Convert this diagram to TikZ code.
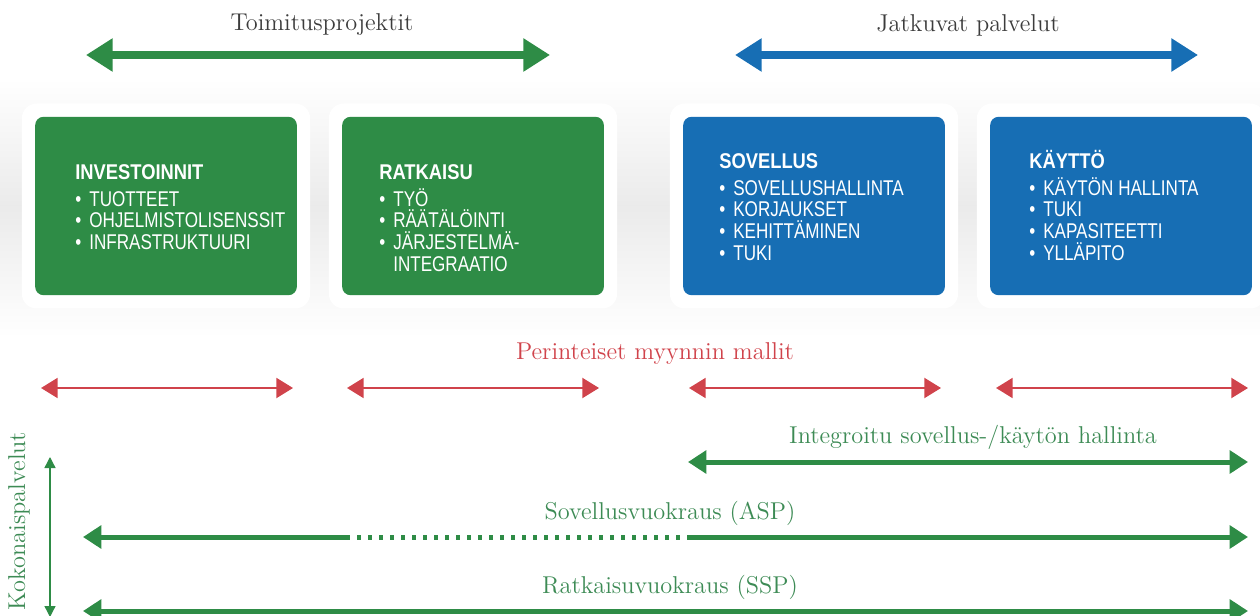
\documentclass[tikz,border=0pt]{standalone}
\usepackage{fontspec}
\newfontfamily\cardfont[FakeStretch=0.8]{Liberation Sans}
\newfontfamily\cardbold[FakeStretch=0.86]{Liberation Sans}
\usetikzlibrary{arrows.meta}

\newcommand{\cardbullet}{\makebox[8.4pt][l]{•}}
\newcommand{\cardhead}[1]{\rule{0pt}{11.5pt}{\cardbold\bfseries #1}\\[3pt]}

\tikzset{
  cardback/.style={fill=white, rounded corners=9pt, minimum width=173pt, minimum height=123pt, inner sep=0pt},
  card/.style={rounded corners=5pt, minimum width=157pt, minimum height=107pt, inner sep=0pt},
  cardtext/.style={text=white, align=left, inner sep=0pt, anchor=north west,
    font=\cardfont\fontsize{12.8}{13}\selectfont},
  serifnote/.style={inner sep=0pt, font=\fontsize{14.6}{16}\selectfont},
  bigtip/.tip={Triangle[length=16pt,width=19pt]},
  midtip/.tip={Triangle[length=11pt,width=13.5pt]},
  redtip/.tip={Triangle[length=10pt,width=12pt]},
  thintip/.tip={Triangle[length=6.6pt,width=6.6pt]},
  bigarrow/.style={line width=4.6pt, bigtip-bigtip},
  midline/.style={line width=3pt, draw=linegreen},
  redarrow/.style={line width=1.2pt, draw=salesred, redtip-redtip},
  thinarrow/.style={line width=0.8pt, draw=linegreen, thintip-thintip}
}

\begin{document}
\begin{tikzpicture}[x=0.6pt, y=-0.6pt]
  \definecolor{boxgreen}{RGB}{46,140,70}
  \definecolor{boxblue}{RGB}{23,110,180}
  \definecolor{linegreen}{RGB}{46,140,70}
  \definecolor{textgreen}{RGB}{61,139,85}
  \definecolor{salesred}{RGB}{208,67,75}
  \definecolor{darktext}{RGB}{60,60,60}
  \useasboundingbox (0,0) rectangle (1260,616);

  % grey band behind the cards
  \shade[top color=white, bottom color=black!8] (0,78) rectangle (1260,206);
  \shade[top color=black!8, bottom color=white] (0,206) rectangle (1260,338);

  % cards
  \node[cardback] (inv-back) at (166,206) {};
  \node[cardback] (rat-back) at (473,206) {};
  \node[cardback] (sov-back) at (814,206) {};
  \node[cardback] (kay-back) at (1121,206) {};
  \node[card, fill=boxgreen] (inv) at (166,206) {};
  \node[card, fill=boxgreen] (rat) at (473,206) {};
  \node[card, fill=boxblue] (sov) at (814,206) {};
  \node[card, fill=boxblue] (kay) at (1121,206) {};

  \node[cardtext] (inv-txt) at (75,160) {\cardhead{INVESTOINNIT}
    \cardbullet TUOTTEET\\ \cardbullet OHJELMISTOLISENSSIT\\ \cardbullet INFRASTRUKTUURI};
  \node[cardtext] (rat-txt) at (379,160) {\cardhead{RATKAISU}
    \cardbullet TYÖ\\ \cardbullet RÄÄTÄLÖINTI\\ \cardbullet JÄRJESTELMÄ-\\ \hspace*{8.4pt}INTEGRAATIO};
  \node[cardtext] (sov-txt) at (719,149) {\cardhead{SOVELLUS}
    \cardbullet SOVELLUSHALLINTA\\ \cardbullet KORJAUKSET\\ \cardbullet KEHITTÄMINEN\\ \cardbullet TUKI};
  \node[cardtext] (kay-txt) at (1029,149) {\cardhead{KÄYTTÖ}
    \cardbullet KÄYTÖN HALLINTA\\ \cardbullet TUKI\\ \cardbullet KAPASITEETTI\\ \cardbullet YLLÄPITO};

  % top arrows
  \node[serifnote, text=darktext] (tp-note) at (322,25) {Toimitusprojektit};
  \coordinate (tp-l) at (86,55);
  \coordinate (tp-r) at (550,55);
  \draw[bigarrow, draw=linegreen, fill=linegreen] (tp-l) -- (tp-r);
  \node[serifnote, text=darktext] (jp-note) at (968,25) {Jatkuvat palvelut};
  \coordinate (jp-l) at (735,55);
  \coordinate (jp-r) at (1198,55);
  \draw[bigarrow, draw=boxblue, fill=boxblue] (jp-l) -- (jp-r);

  % traditional sales models
  \node[serifnote, text=salesred] (pm-note) at (655,354) {Perinteiset myynnin mallit};
  \coordinate (pm1-l) at (41,388);
  \coordinate (pm1-r) at (293,388);
  \coordinate (pm2-l) at (347,388);
  \coordinate (pm2-r) at (599,388);
  \coordinate (pm3-l) at (689,388);
  \coordinate (pm3-r) at (941,388);
  \coordinate (pm4-l) at (996,388);
  \coordinate (pm4-r) at (1248,388);
  \draw[redarrow] (pm1-l) -- (pm1-r);
  \draw[redarrow] (pm2-l) -- (pm2-r);
  \draw[redarrow] (pm3-l) -- (pm3-r);
  \draw[redarrow] (pm4-l) -- (pm4-r);

  % integrated management
  \node[serifnote, text=textgreen] (int-note) at (973,437) {Integroitu sovellus-/käytön hallinta};
  \coordinate (int-l) at (688,462);
  \coordinate (int-r) at (1248,462);
  \draw[midline, midtip-midtip] (int-l) -- (int-r);

  % ASP
  \node[serifnote, text=textgreen] (asp-note) at (670,513) {Sovellusvuokraus (ASP)};
  \coordinate (asp-l) at (83,537);
  \coordinate (asp-a) at (346,537);
  \coordinate (asp-b) at (687,537);
  \coordinate (asp-r) at (1248,537);
  \draw[midline, midtip-] (asp-l) -- (asp-a);
  \draw[midline, dash pattern=on 2.4pt off 4.2pt] (asp-a) -- (asp-b);
  \draw[midline, -midtip] (asp-b) -- (asp-r);

  % SSP
  \node[serifnote, text=textgreen] (ssp-note) at (670,587) {Ratkaisuvuokraus (SSP)};
  \coordinate (ssp-l) at (83,611);
  \coordinate (ssp-r) at (1248,611);
  \draw[midline, midtip-midtip] (ssp-l) -- (ssp-r);

  % total services
  \node[serifnote, text=textgreen, rotate=90] (kok-note) at (19,521) {Kokonaispalvelut};
  \coordinate (kok-t) at (50,457);
  \coordinate (kok-b) at (50,617);
  \draw[thinarrow] (kok-t) -- (kok-b);
\end{tikzpicture}
\end{document}
